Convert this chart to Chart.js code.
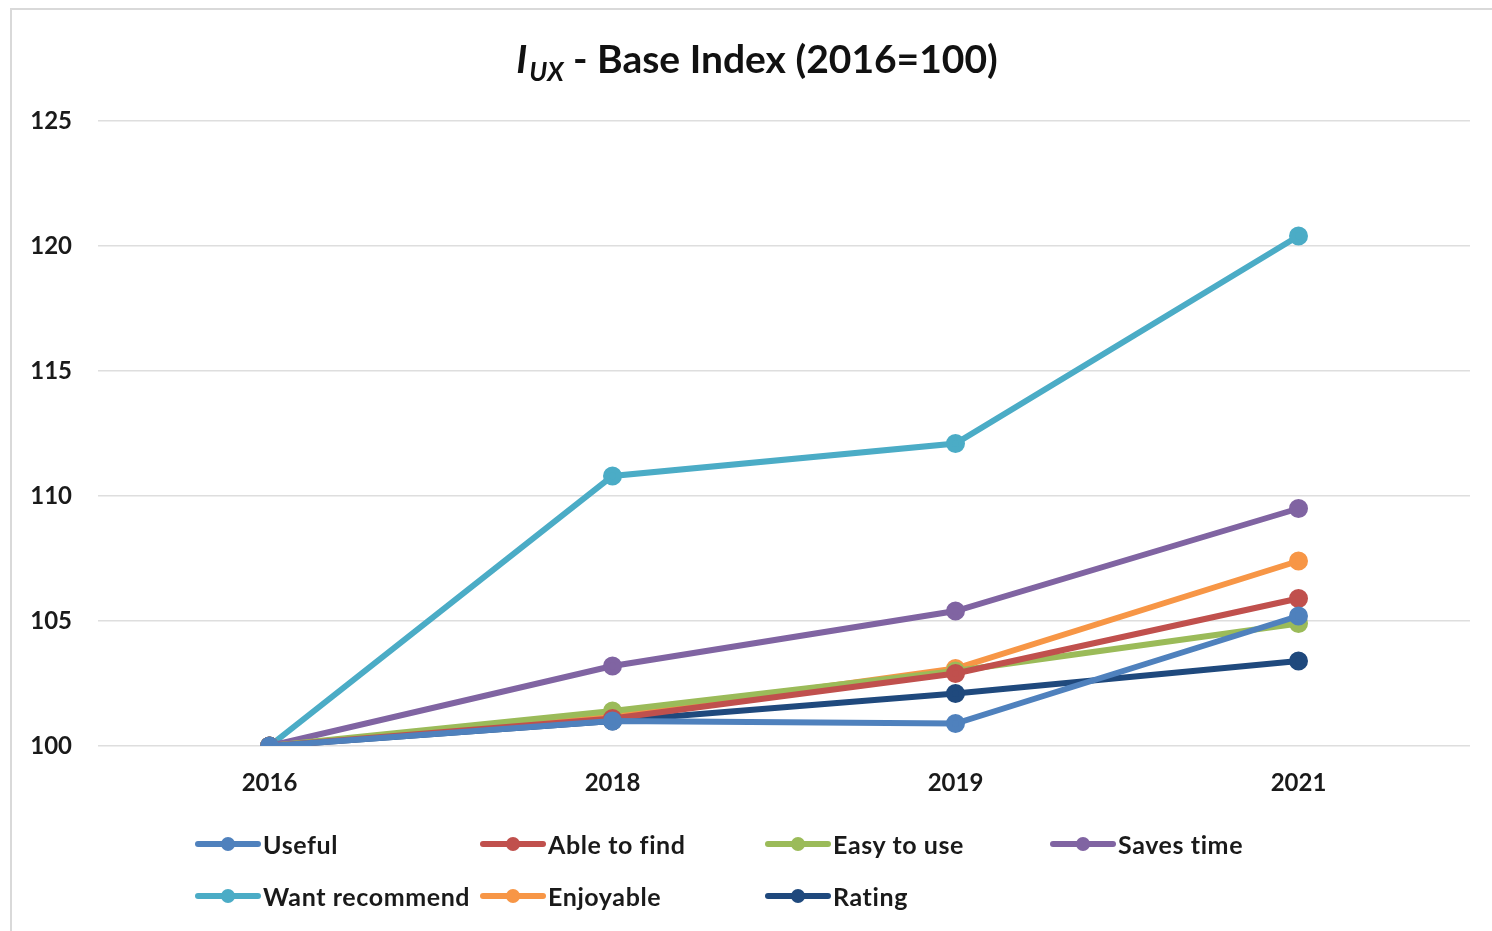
<!DOCTYPE html>
<html>
<head>
<meta charset="utf-8">
<script src="https://cdn.jsdelivr.net/npm/chart.js@4"></script>
<style>
  html, body { margin: 0; padding: 0; background: #fff; overflow: hidden; }
  #wrap { position: relative; width: 1492px; height: 931px; }
  #frame { position: absolute; left: 10px; top: 8px; width: 1500px; height: 1000px;
           border: 2px solid #d9d9d9; box-sizing: border-box; }
  canvas { position: absolute; left: 0; top: 0; }
  #legend { position: absolute; left: 195px; top: 826px; display: grid;
            grid-template-columns: repeat(4, 285px); grid-auto-rows: 52px;
            font-family: Lato, sans-serif; font-weight: bold; font-size: 25px; letter-spacing: 0.6px; color: #1a1a1a; }
  .item { display: flex; align-items: center; height: 36px; white-space: nowrap; }
  .swatch { position: relative; flex: none; width: 66px; height: 6px; border-radius: 3px; margin-right: 2px; }
  .swatch i { position: absolute; left: 26px; top: -4px; width: 14px; height: 14px; border-radius: 50%; }
</style>
</head>
<body>
<div id="wrap">
  <div id="frame"></div>
  <canvas id="chart" width="1492" height="931"></canvas>
  <div id="legend"></div>
</div>
<script>
const years = ['2016', '2018', '2019', '2021'];
const yTicks = [100, 105, 110, 115, 120, 125];

const useful = [100, 101.0, 100.9, 105.2];
const ableToFind = [100, 101.1, 102.9, 105.9];
const easyToUse = [100, 101.4, 103.0, 104.9];
const savesTime = [100, 103.2, 105.4, 109.5];
const wantRecommend = [100, 110.8, 112.1, 120.4];
const enjoyable = [100, 101.2, 103.1, 107.4];
const rating = [100, 101.0, 102.1, 103.4];

const series = [
  { label: 'Useful', data: useful, color: '#4F81BD' },
  { label: 'Able to find', data: ableToFind, color: '#C0504D' },
  { label: 'Easy to use', data: easyToUse, color: '#9BBB59' },
  { label: 'Saves time', data: savesTime, color: '#8064A2' },
  { label: 'Want recommend', data: wantRecommend, color: '#4BACC6' },
  { label: 'Enjoyable', data: enjoyable, color: '#F79646' },
  { label: 'Rating', data: rating, color: '#1F497D' }
];

// title with italic I and subscript UX
const titlePlugin = {
  id: 'iuxTitle',
  afterDraw(chart) {
    const c = chart.ctx;
    const big = 'bold 39px Lato, sans-serif';
    const bigIt = 'italic bold 39px Lato, sans-serif';
    const sub = 'italic bold 26px Lato, sans-serif';
    const rest = ' - Base Index (2016=100)';
    c.save();
    c.fillStyle = '#111';
    c.textBaseline = 'alphabetic';
    c.font = bigIt; const wI = c.measureText('I').width + 2;
    c.font = sub; const wS = c.measureText('UX').width;
    c.font = big; const wR = c.measureText(rest).width;
    let x = 757 - (wI + wS + wR) / 2;
    const y = 73;
    c.font = bigIt; c.fillText('I', x, y); x += wI;
    c.font = sub; c.fillText('UX', x, y + 8); x += wS;
    c.font = big; c.fillText(rest, x, y);
    c.restore();
  }
};

new Chart(document.getElementById('chart'), {
  type: 'line',
  data: {
    labels: years,
    datasets: series.map(s => ({
      label: s.label,
      data: s.data,
      borderColor: s.color,
      backgroundColor: s.color,
      borderWidth: 6,
      pointRadius: 6.5,
      pointHoverRadius: 6.5,
      tension: 0,
      fill: false
    }))
  },
  options: {
    responsive: false,
    animation: false,
    layout: { padding: { top: 121, right: 22, left: 0, bottom: 0 } },
    plugins: { legend: { display: false }, title: { display: false }, tooltip: { enabled: false } },
    scales: {
      x: {
        offset: true,
        grid: { display: false, drawTicks: false },
        border: { display: false },
        ticks: { color: '#1a1a1a', padding: 23, font: { family: 'Lato', weight: 'bold', size: 24 } },
        afterFit: s => { s.height = 185; }
      },
      y: {
        min: 100, max: 125,
        afterBuildTicks: s => { s.ticks = yTicks.map(v => ({ value: v })); },
        grid: { color: '#dedede', lineWidth: 1.5, drawTicks: false },
        border: { display: false },
        ticks: { color: '#1a1a1a', padding: 26, font: { family: 'Lato', weight: 'bold', size: 24 } },
        afterFit: s => { s.width = 98; }
      }
    }
  },
  plugins: [titlePlugin]
});

const legend = document.getElementById('legend');
series.forEach(s => {
  const item = document.createElement('div');
  item.className = 'item';
  item.innerHTML = '<span class="swatch" style="background:' + s.color + '"><i style="background:' + s.color + '"></i></span><span>' + s.label + '</span>';
  legend.appendChild(item);
});
</script>
</body>
</html>
